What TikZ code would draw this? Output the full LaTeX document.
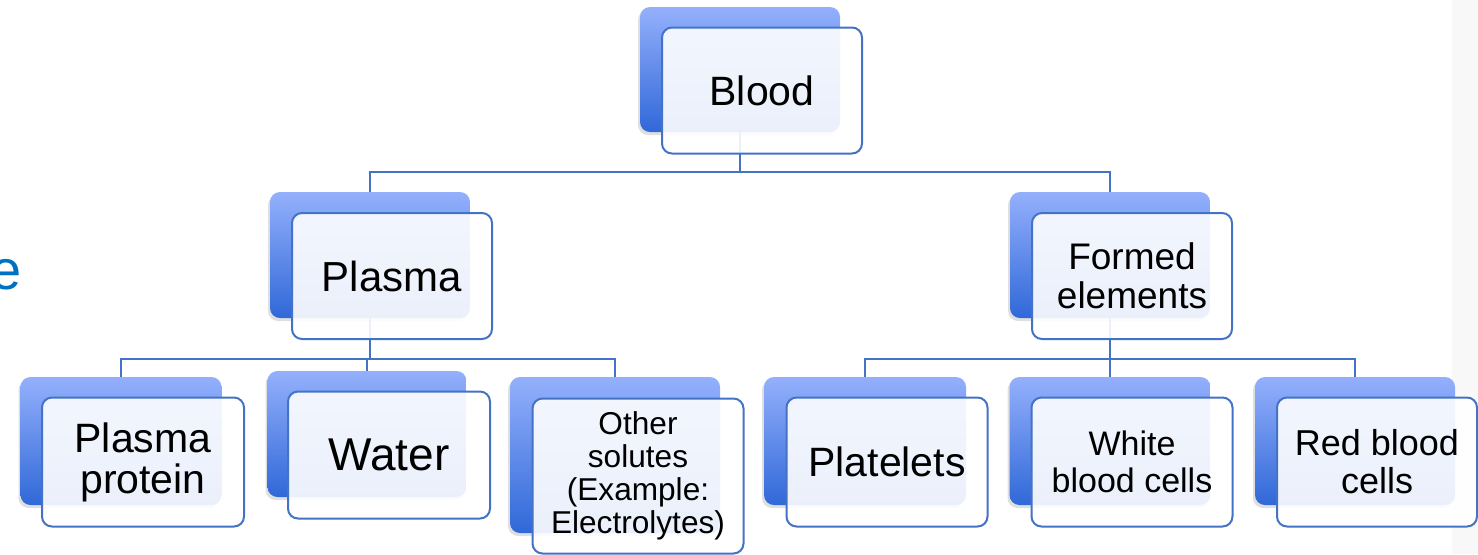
\documentclass[tikz,border=0pt]{standalone}
\usepackage{fontspec}
\setmainfont{Liberation Sans}
\usetikzlibrary{shadows}

\definecolor{linkblue}{HTML}{4472C4}
\definecolor{boxtop}{HTML}{94B0FC}
\definecolor{boxbottom}{HTML}{3068D8}
\definecolor{titleblue}{HTML}{0070C0}
\definecolor{panelgray}{HTML}{F8F8F8}

\begin{document}
\begin{tikzpicture}[x=0.5pt, y=-0.5pt,
    backbox/.style={rounded corners=5pt, minimum width=100pt, minimum height=63pt, inner sep=0pt,
        top color=boxtop, bottom color=boxbottom,
        drop shadow={shadow xshift=-1pt, shadow yshift=-1.5pt, opacity=0.25}},
    frontbox/.style={draw=linkblue, line width=1pt, rounded corners=5pt, fill=white,
        fill opacity=0.9, text opacity=1, minimum width=100pt, minimum height=63pt,
        inner sep=0pt, align=center},
    link/.style={draw=linkblue, line width=1pt}
]
    \useasboundingbox (0,0) rectangle (1478,554);

    % Side panel and cut title
    \fill[panelgray] (1452,0) rectangle (1478,554);
    \node[font=\fontsize{28}{34}\selectfont, text=titleblue, anchor=east, inner sep=0pt] (title) at (22,275) {e};

    % Back boxes
    \node[backbox, minimum height=62.5pt] (blood-b) at (740,69.5) {};
    \node[backbox] (plasma-b) at (370,255) {};
    \node[backbox] (formed-b) at (1110,255) {};
    \node[backbox, minimum width=100.5pt, minimum height=64pt] (protein-b) at (121,441) {};
    \node[backbox, minimum width=99.5pt] (water-b) at (367,434) {};
    \node[backbox, minimum width=105pt, minimum height=78pt] (solutes-b) at (615,455) {};
    \node[backbox, minimum width=101pt, minimum height=64pt] (platelets-b) at (865,441) {};
    \node[backbox, minimum width=100.5pt, minimum height=64pt] (white-b) at (1110,441) {};
    \node[backbox, minimum height=64pt] (red-b) at (1355,441) {};

    % Connections
    \foreach \kid in {plasma-b, formed-b} {
        \draw[link] (blood-b.south) -- ++(0,40) -| (\kid.north);
    }
    \foreach \kid in {protein-b, water-b, solutes-b} {
        \draw[link] (plasma-b.south) -- ++(0,41) -| (\kid.north);
    }
    \foreach \kid in {platelets-b, white-b, red-b} {
        \draw[link] (formed-b.south) -- ++(0,41) -| (\kid.north);
    }

    % Front boxes
    \node[frontbox, font=\fontsize{20.5}{24}\selectfont] (blood) at ([shift={(22,21)}]blood-b.center) {Blood};
    \node[frontbox, font=\fontsize{21}{25}\selectfont] (plasma) at ([shift={(22,21)}]plasma-b.center) {Plasma};
    \node[frontbox, font=\fontsize{18.5}{19.5}\selectfont] (formed) at ([shift={(22,21)}]formed-b.center) {Formed\\elements};
    \node[frontbox, minimum width=101pt, minimum height=64.5pt, font=\fontsize{20.5}{20.5}\selectfont] (protein) at ([shift={(22,21)}]protein-b.center) {Plasma\\protein};
    \node[frontbox, minimum width=101pt, minimum height=63.5pt, font=\fontsize{23}{26}\selectfont] (water) at ([shift={(22,21)}]water-b.center) {Water};
    \node[frontbox, minimum width=105.5pt, minimum height=77.5pt, font=\fontsize{15.8}{16.5}\selectfont] (solutes) at ([shift={(23,21)}]solutes-b.center) {Other\\solutes\\(Example:\\Electrolytes)};
    \node[frontbox, minimum width=100.5pt, minimum height=64.5pt, font=\fontsize{20.5}{24}\selectfont] (platelets) at ([shift={(22,21)}]platelets-b.center) {Platelets};
    \node[frontbox, minimum width=100.5pt, minimum height=64.5pt, font=\fontsize{17}{18.5}\selectfont] (white) at ([shift={(22,21)}]white-b.center) {White\\blood cells};
    \node[frontbox, minimum width=100pt, minimum height=64.5pt, font=\fontsize{18}{19}\selectfont] (red) at ([shift={(22,21)}]red-b.center) {Red blood\\cells};
\end{tikzpicture}
\end{document}
